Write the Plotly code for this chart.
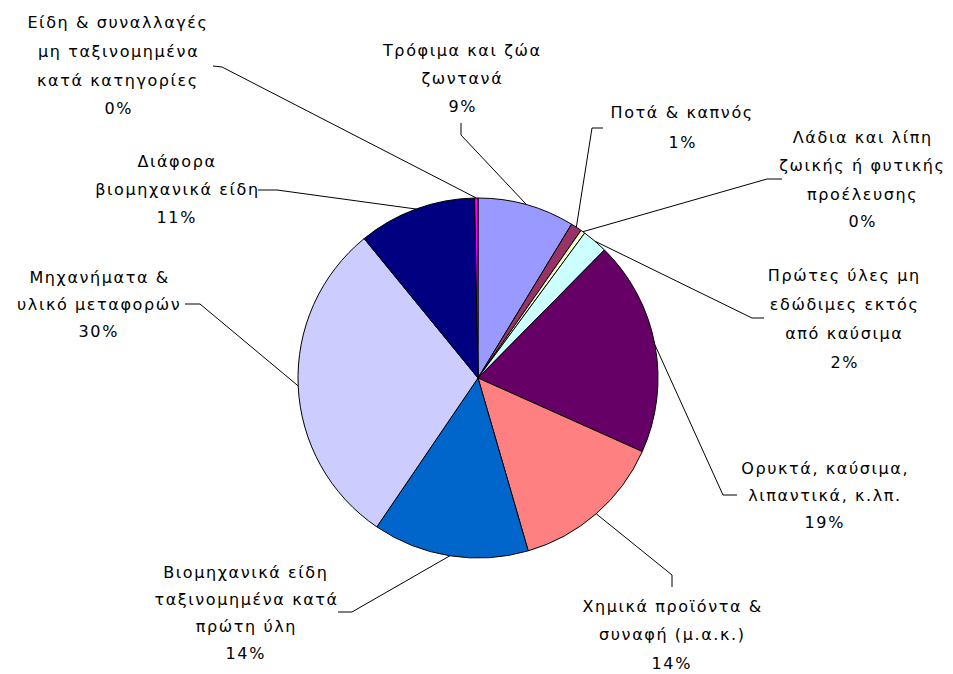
import math
import plotly.graph_objects as go

# ---------------- data ----------------
categories = [
    "Τρόφιμα και ζώα ζωντανά",
    "Ποτά & καπνός",
    "Λάδια και λίπη ζωικής ή φυτικής προέλευσης",
    "Πρώτες ύλες μη εδώδιμες εκτός από καύσιμα",
    "Ορυκτά, καύσιμα, λιπαντικά, κ.λπ.",
    "Χημικά προϊόντα & συναφή (μ.α.κ.)",
    "Βιομηχανικά είδη ταξινομημένα κατά πρώτη ύλη",
    "Μηχανήματα & υλικό μεταφορών",
    "Διάφορα βιομηχανικά είδη",
    "Είδη & συναλλαγές μη ταξινομημένα κατά κατηγορίες",
]
values = [8.7, 1.0, 0.4, 2.3, 19.3, 13.8, 14.0, 29.6, 10.6, 0.3]
label_lines = [
    ["Τρόφιμα και ζώα", "ζωντανά"],
    ["Ποτά & καπνός"],
    ["Λάδια και λίπη", "ζωικής ή φυτικής", "προέλευσης"],
    ["Πρώτες ύλες μη", "εδώδιμες εκτός", "από καύσιμα"],
    ["Ορυκτά, καύσιμα,", "λιπαντικά, κ.λπ."],
    ["Χημικά προϊόντα &", "συναφή (μ.α.κ.)"],
    ["Βιομηχανικά είδη", "ταξινομημένα κατά", "πρώτη ύλη"],
    ["Μηχανήματα &", "υλικό μεταφορών"],
    ["Διάφορα", "βιομηχανικά είδη"],
    ["Είδη & συναλλαγές", "μη ταξινομημένα", "κατά κατηγορίες"],
]
colors = ["#9999FF", "#993366", "#FFFFCC", "#CCFFFF", "#660066",
          "#FF8080", "#0066CC", "#CCCCFF", "#000080", "#FF00FF"]

# ---------------- layout geometry (pixels) ----------------
W, H = 953, 674
CX, CY, R = 478, 378, 180

# label text: (x centre, y of first line, line pitch)
label_pos = [
    (462, 50, 28),
    (682, 113, 30),
    (862, 138, 28),
    (844, 275, 29),
    (825, 468, 27),
    (672, 606, 28.5),
    (246, 572, 27),
    (99, 277, 27),
    (177, 162, 27.5),
    (118, 22, 29),
]
# leader: label-side end, bend point (pixels); pie-side end computed from data
leader_pts = [
    ((461, 123), (461, 135)),
    ((603, 128), (592, 128)),
    ((782, 179), (767, 179)),
    ((764, 318), (752, 318)),
    ((737, 495), (723, 495)),
    ((672, 587), (672, 575)),
    ((338, 612), (352, 612)),
    ((185, 304), (200, 304)),
    ((258, 190), (277, 190)),
    ((213, 66), (222, 67)),
]


def px(x):
    return x / W


def py(y):
    return 1 - y / H


fig = go.Figure(
    go.Pie(
        labels=categories,
        values=values,
        sort=False,
        direction="clockwise",
        rotation=0,
        textinfo="none",
        hoverinfo="label+percent",
        marker=dict(colors=colors, line=dict(color="black", width=1)),
        domain=dict(x=[px(CX - R), px(CX + R)], y=[py(CY + R), py(CY - R)]),
        showlegend=False,
    )
)

font = dict(family="DejaVu Sans", size=16, color="#000000")
annotations = []
shapes = []
total = sum(values)
cum = 0.0
for i, v in enumerate(values):
    mid = (cum + v / 2) / total * 2 * math.pi
    cum += v
    ex = CX + R * math.sin(mid)
    ey = CY - R * math.cos(mid)
    lines = label_lines[i] + [f"{round(v / total * 100)}%"]
    xc, y0, pitch = label_pos[i]
    for k, t in enumerate(lines):
        annotations.append(dict(
            x=px(xc), y=py(y0 + k * pitch), xref="paper", yref="paper",
            text=t, showarrow=False, xanchor="center", yanchor="middle",
            font=font,
        ))
    (ax, ay), (bx, by) = leader_pts[i]
    path = f"M {px(ax)} {py(ay)} L {px(bx)} {py(by)} L {px(ex)} {py(ey)}"
    shapes.append(dict(type="path", path=path, xref="paper", yref="paper",
                       line=dict(color="black", width=1)))

fig.update_layout(
    width=W, height=H,
    margin=dict(l=0, r=0, t=0, b=0),
    paper_bgcolor="white",
    plot_bgcolor="white",
    annotations=annotations,
    shapes=shapes,
)

post = (
    "document.body.style.margin='0';"
    "document.querySelectorAll('.annotation-text').forEach(function(e){"
    "e.style.letterSpacing='1.6px';});"
)
fig.write_html("out.html", post_script=post,
               config={"displayModeBar": False})
